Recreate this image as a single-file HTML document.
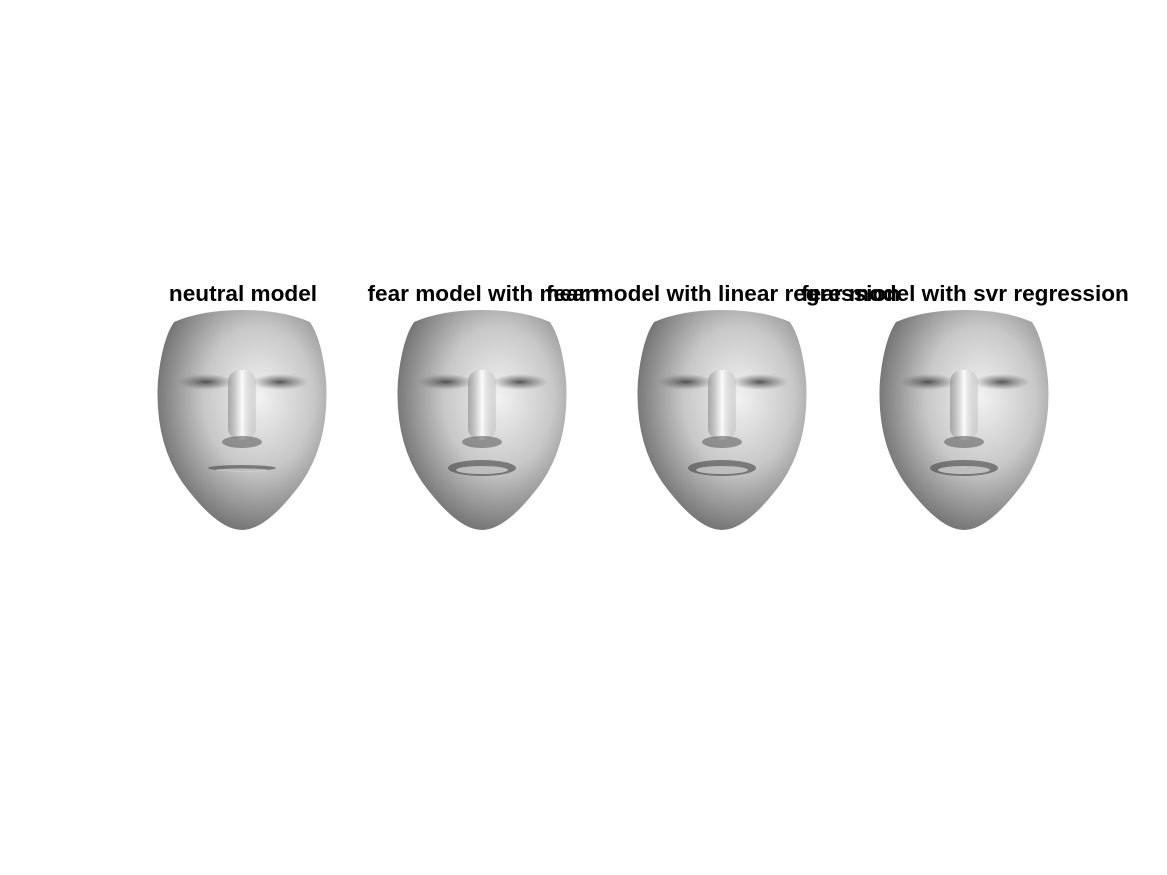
<!DOCTYPE html>
<html><head><meta charset="utf-8"><style>
html,body{margin:0;padding:0;background:#fff;}
svg{display:block;}
text{font-family:"Liberation Sans",Arial,sans-serif;font-weight:bold;font-size:22.6px;fill:#000;}
</style></head><body>
<svg id="fig" width="1167" height="875" viewBox="0 0 1167 875">
<defs>
<radialGradient id="skin" cx="0.6" cy="0.4" r="0.65">
<stop offset="0" stop-color="#f2f2f2"/><stop offset="0.5" stop-color="#c8c8c8"/><stop offset="1" stop-color="#6a6a6a"/>
</radialGradient>
<linearGradient id="nose" x1="0" x2="1"><stop offset="0" stop-color="#888" stop-opacity="0.6"/><stop offset="0.5" stop-color="#fff" stop-opacity="0.9"/><stop offset="1" stop-color="#aaa" stop-opacity="0.3"/></linearGradient>
<radialGradient id="eye"><stop offset="0" stop-color="#333" stop-opacity="0.8"/><stop offset="1" stop-color="#555" stop-opacity="0"/></radialGradient>
</defs>
</svg>
<script>
const titles = ["neutral model","fear model with mean","fear model with linear regression","fear model with svr regression"];
const centers = [243,483,723,965];
const svg = document.getElementById('fig');
const NS = "http://www.w3.org/2000/svg";
function mk(tag, attrs, parent){const e=document.createElementNS(NS,tag);for(const k in attrs)e.setAttribute(k,attrs[k]);parent.appendChild(e);return e;}
titles.forEach((t,i)=>{
  const cx=centers[i], top=310;
  const g=mk('g',{transform:`translate(${cx-1},${top})`},svg);
  
  
  mk('path',{d:"M-68,12 Q-40,0 0,0 Q40,0 68,12 Q80,30 84,70 Q88,130 60,172 Q25,220 0,220 Q-25,220 -60,172 Q-88,130 -84,70 Q-80,30 -68,12 Z",fill:"url(#skin)"},g);
  mk('ellipse',{cx:-36,cy:72,rx:28,ry:8,fill:"url(#eye)"},g);
  mk('ellipse',{cx:38,cy:72,rx:28,ry:8,fill:"url(#eye)"},g);
  mk('rect',{x:-14,y:60,width:28,height:70,rx:12,fill:"url(#nose)"},g);
  mk('ellipse',{cx:0,cy:132,rx:20,ry:6,fill:"#555",opacity:0.55},g);
  mk('ellipse',{cx:0,cy:158,rx:34,ry:i===0?3:8,fill:"#444",opacity:0.6},g);
  mk('ellipse',{cx:0,cy:160,rx:26,ry:i===0?1.5:4,fill:"#ddd",opacity:0.7},g);
  const tx=mk('text',{x:cx,y:301,'text-anchor':'middle'},svg);
  tx.textContent=t;
  
  
});
</script>
</body></html>
